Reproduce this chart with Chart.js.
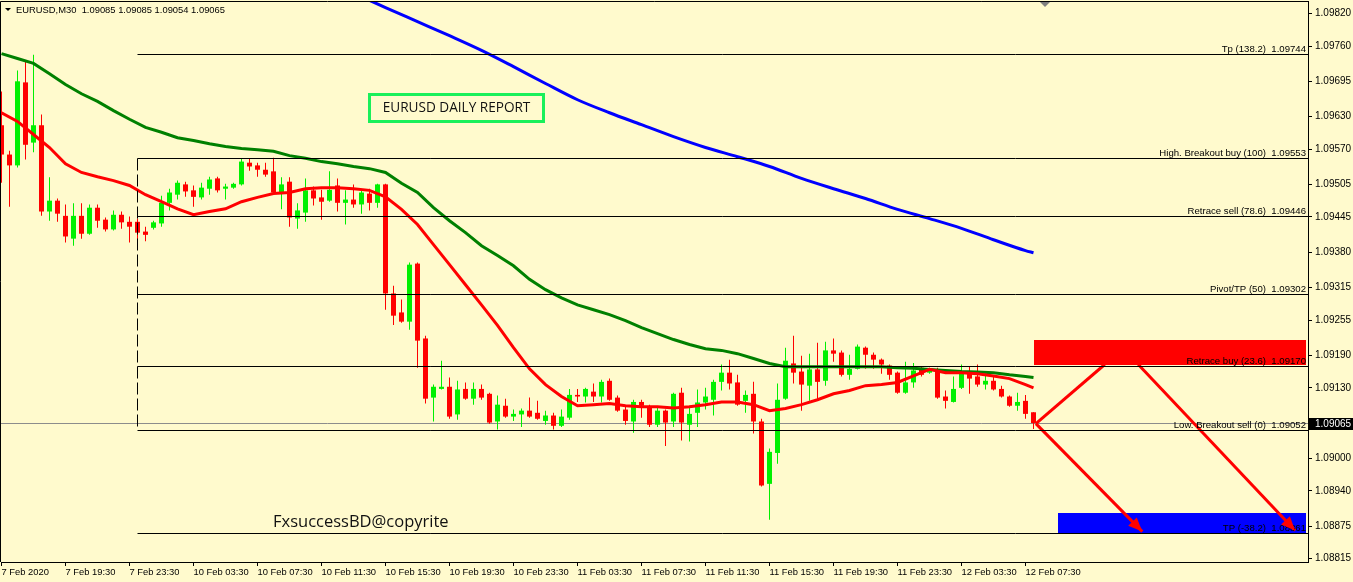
<!DOCTYPE html>
<html>
<head>
<meta charset="utf-8">
<title>EURUSD M30</title>
<script src="https://cdn.jsdelivr.net/npm/chart.js@4.4.1/dist/chart.umd.min.js"></script>
<style>
  html, body { margin: 0; padding: 0; background: #fffacd; overflow: hidden; }
  canvas { display: block; }
</style>
</head>
<body>
<canvas id="chart" width="1353" height="582"></canvas>
<script>
// EURUSD M30, bars from 7 Feb 15:30 to 12 Feb 08:00
var symbol = 'EURUSD'
var timeframe = 'M30'

var xTickLabels = ['7 Feb 2020', '7 Feb 19:30', '7 Feb 23:30', '10 Feb 03:30', '10 Feb 07:30', '10 Feb 11:30',
    '10 Feb 15:30', '10 Feb 19:30', '10 Feb 23:30', '11 Feb 03:30', '11 Feb 07:30', '11 Feb 11:30',
    '11 Feb 15:30', '11 Feb 19:30', '11 Feb 23:30', '12 Feb 03:30', '12 Feb 07:30']
var yTickValues = [1.09820, 1.09760, 1.09695, 1.09630, 1.09570, 1.09505, 1.09445, 1.09380, 1.09315,
    1.09255, 1.09190, 1.09130, 1.09065, 1.09000, 1.08940, 1.08875, 1.08815]

var opens = [
    1.09614, 1.09560, 1.09540, 1.09693, 1.09582, 1.09614, 1.09455, 1.09475, 1.09447, 1.09405,
    1.09447, 1.09414, 1.09462, 1.09440, 1.09422, 1.09449, 1.09436, 1.09436, 1.09418, 1.09425,
    1.09433, 1.09471, 1.09486, 1.09505, 1.09494, 1.09481, 1.09497, 1.09516, 1.09497, 1.09499,
    1.09505, 1.09545, 1.09540, 1.09532, 1.09529, 1.09490, 1.09510, 1.09442, 1.09453, 1.09494,
    1.09481, 1.09475, 1.09503, 1.09471, 1.09477, 1.09468, 1.09488, 1.09471, 1.09505, 1.09304,
    1.09269, 1.09252, 1.09359, 1.09221, 1.09112, 1.09128, 1.09132, 1.09081, 1.09128, 1.09110,
    1.09128, 1.09119, 1.09068, 1.09097, 1.09077, 1.09081, 1.09088, 1.09084, 1.09069, 1.09079,
    1.09060, 1.09075, 1.09117, 1.09114, 1.09123, 1.09114, 1.09143, 1.09112, 1.09090, 1.09068,
    1.09104, 1.09095, 1.09062, 1.09088, 1.09068, 1.09121, 1.09062, 1.09084, 1.09103, 1.09108,
    1.09141, 1.09158, 1.09140, 1.09106, 1.09119, 1.09068, 1.08953, 1.09010, 1.09110, 1.09175,
    1.09160, 1.09134, 1.09164, 1.09143, 1.09199, 1.09195, 1.09154, 1.09165, 1.09204, 1.09191,
    1.09182, 1.09171, 1.09158, 1.09121, 1.09140, 1.09167, 1.09158, 1.09164, 1.09114, 1.09104,
    1.09130, 1.09158, 1.09151, 1.09136, 1.09143, 1.09128, 1.09114, 1.09097, 1.09106, 1.09085]
var highs = [
    1.09676, 1.09567, 1.09715, 1.09731, 1.09744, 1.09634, 1.09518, 1.09479, 1.09468, 1.09470,
    1.09470, 1.09468, 1.09468, 1.09444, 1.09457, 1.09455, 1.09446, 1.09442, 1.09427, 1.09438,
    1.09484, 1.09497, 1.09512, 1.09510, 1.09503, 1.09508, 1.09519, 1.09519, 1.09506, 1.09508,
    1.09553, 1.09553, 1.09545, 1.09545, 1.09554, 1.09518, 1.09518, 1.09470, 1.09516, 1.09501,
    1.09495, 1.09529, 1.09516, 1.09494, 1.09505, 1.09495, 1.09497, 1.09506, 1.09506, 1.09318,
    1.09293, 1.09361, 1.09361, 1.09226, 1.09136, 1.09180, 1.09149, 1.09143, 1.09140, 1.09140,
    1.09136, 1.09121, 1.09116, 1.09110, 1.09090, 1.09092, 1.09112, 1.09106, 1.09088, 1.09084,
    1.09090, 1.09128, 1.09128, 1.09130, 1.09138, 1.09145, 1.09147, 1.09116, 1.09095, 1.09108,
    1.09108, 1.09099, 1.09095, 1.09090, 1.09121, 1.09130, 1.09097, 1.09127, 1.09130, 1.09145,
    1.09173, 1.09182, 1.09154, 1.09125, 1.09141, 1.09073, 1.09018, 1.09138, 1.09204, 1.09226,
    1.09189, 1.09193, 1.09213, 1.09215, 1.09221, 1.09199, 1.09191, 1.09210, 1.09206, 1.09195,
    1.09184, 1.09173, 1.09160, 1.09178, 1.09176, 1.09169, 1.09167, 1.09167, 1.09125, 1.09151,
    1.09173, 1.09169, 1.09173, 1.09156, 1.09151, 1.09134, 1.09116, 1.09121, 1.09117, 1.09085]
var lows = [
    1.09508, 1.09464, 1.09536, 1.09551, 1.09564, 1.09447, 1.09438, 1.09436, 1.09398, 1.09392,
    1.09405, 1.09412, 1.09425, 1.09418, 1.09420, 1.09423, 1.09398, 1.09403, 1.09400, 1.09422,
    1.09427, 1.09457, 1.09477, 1.09482, 1.09464, 1.09477, 1.09486, 1.09490, 1.09477, 1.09497,
    1.09503, 1.09530, 1.09519, 1.09519, 1.09486, 1.09459, 1.09427, 1.09423, 1.09436, 1.09466,
    1.09440, 1.09473, 1.09455, 1.09431, 1.09462, 1.09451, 1.09457, 1.09462, 1.09274, 1.09246,
    1.09250, 1.09237, 1.09167, 1.09101, 1.09068, 1.09127, 1.09073, 1.09071, 1.09108, 1.09099,
    1.09108, 1.09064, 1.09053, 1.09075, 1.09069, 1.09058, 1.09075, 1.09071, 1.09062, 1.09053,
    1.09058, 1.09071, 1.09104, 1.09103, 1.09104, 1.09103, 1.09106, 1.09086, 1.09062, 1.09047,
    1.09075, 1.09058, 1.09058, 1.09023, 1.09058, 1.09033, 1.09031, 1.09058, 1.09090, 1.09079,
    1.09125, 1.09127, 1.09097, 1.09084, 1.09046, 1.08948, 1.08887, 1.08990, 1.09108, 1.09138,
    1.09088, 1.09106, 1.09106, 1.09134, 1.09178, 1.09151, 1.09145, 1.09164, 1.09165, 1.09165,
    1.09156, 1.09145, 1.09119, 1.09119, 1.09130, 1.09151, 1.09156, 1.09110, 1.09092, 1.09103,
    1.09128, 1.09119, 1.09132, 1.09127, 1.09125, 1.09112, 1.09095, 1.09088, 1.09073, 1.09054]
var closes = [
    1.09560, 1.09540, 1.09695, 1.09578, 1.09614, 1.09455, 1.09475, 1.09451, 1.09409, 1.09447,
    1.09414, 1.09462, 1.09438, 1.09422, 1.09449, 1.09435, 1.09427, 1.09416, 1.09412, 1.09435,
    1.09471, 1.09490, 1.09508, 1.09492, 1.09482, 1.09499, 1.09514, 1.09494, 1.09501, 1.09506,
    1.09547, 1.09538, 1.09532, 1.09523, 1.09490, 1.09505, 1.09444, 1.09457, 1.09494, 1.09479,
    1.09473, 1.09495, 1.09471, 1.09477, 1.09468, 1.09490, 1.09471, 1.09505, 1.09304, 1.09263,
    1.09252, 1.09357, 1.09217, 1.09110, 1.09132, 1.09132, 1.09077, 1.09127, 1.09110, 1.09128,
    1.09112, 1.09066, 1.09099, 1.09077, 1.09082, 1.09088, 1.09077, 1.09073, 1.09079, 1.09060,
    1.09077, 1.09117, 1.09114, 1.09128, 1.09114, 1.09141, 1.09108, 1.09088, 1.09069, 1.09104,
    1.09097, 1.09062, 1.09088, 1.09066, 1.09119, 1.09066, 1.09082, 1.09103, 1.09114, 1.09141,
    1.09158, 1.09138, 1.09099, 1.09117, 1.09068, 1.08950, 1.09012, 1.09108, 1.09180, 1.09158,
    1.09136, 1.09164, 1.09141, 1.09199, 1.09193, 1.09154, 1.09165, 1.09206, 1.09191, 1.09182,
    1.09173, 1.09154, 1.09121, 1.09140, 1.09162, 1.09154, 1.09162, 1.09112, 1.09106, 1.09128,
    1.09158, 1.09147, 1.09136, 1.09143, 1.09127, 1.09114, 1.09097, 1.09104, 1.09082, 1.09065]

// moving averages at these bars
var maBars = [0, 2, 4, 6, 8, 10, 12, 14, 16, 18, 20, 22, 24, 26, 28, 30, 32, 34, 36, 38, 40, 42, 44, 46, 48,
    50, 52, 54, 56, 58, 60, 62, 64, 66, 68, 70, 72, 74, 76, 78, 80, 82, 84, 86, 88, 90, 92, 94, 96, 98,
    100, 102, 104, 106, 108, 110, 112, 114, 116, 118, 120, 122, 124, 126, 128, 129]
var fastMa = [
    1.09637, 1.09621, 1.09597, 1.09573, 1.09543, 1.09527, 1.09519, 1.09512, 1.09503, 1.09486,
    1.09473, 1.09460, 1.09449, 1.09455, 1.09460, 1.09473, 1.09481, 1.09488, 1.09490, 1.09497,
    1.09499, 1.09499, 1.09497, 1.09494, 1.09482, 1.09459, 1.09431, 1.09394, 1.09357, 1.09320,
    1.09283, 1.09245, 1.09204, 1.09165, 1.09136, 1.09114, 1.09097, 1.09099, 1.09101, 1.09097,
    1.09095, 1.09095, 1.09093, 1.09095, 1.09099, 1.09104, 1.09104, 1.09099, 1.09088, 1.09092,
    1.09099, 1.09108, 1.09119, 1.09125, 1.09134, 1.09136, 1.09140, 1.09152, 1.09164, 1.09158,
    1.09158, 1.09156, 1.09152, 1.09147, 1.09136, 1.09130]
var slowMa = [
    1.09746, 1.09737, 1.09728, 1.09709, 1.09689, 1.09672, 1.09658, 1.09641, 1.09625, 1.09610,
    1.09601, 1.09591, 1.09586, 1.09580, 1.09575, 1.09571, 1.09569, 1.09566, 1.09558, 1.09553,
    1.09547, 1.09543, 1.09538, 1.09534, 1.09527, 1.09507, 1.09490, 1.09462, 1.09438, 1.09416,
    1.09392, 1.09374, 1.09355, 1.09330, 1.09311, 1.09296, 1.09283, 1.09274, 1.09265, 1.09254,
    1.09241, 1.09230, 1.09219, 1.09210, 1.09202, 1.09199, 1.09193, 1.09184, 1.09175, 1.09169,
    1.09169, 1.09169, 1.09169, 1.09169, 1.09169, 1.09169, 1.09167, 1.09166, 1.09164, 1.09162,
    1.09160, 1.09159, 1.09158, 1.09154, 1.09151, 1.09149]
var longMaBars = [45, 48, 52, 56, 60, 64, 68, 72, 76, 80, 84, 88, 92, 96, 100, 104, 108, 112, 116, 120, 124, 128, 129]
var longMa = [
    1.09851, 1.09831, 1.09805, 1.09779, 1.09752, 1.09722, 1.09691, 1.09661, 1.09637, 1.09615,
    1.09593, 1.09573, 1.09556, 1.09538, 1.09516, 1.09497, 1.09479, 1.09459, 1.09442, 1.09424,
    1.09403, 1.09383, 1.09379]

// fibo levels drawn from the Monday open bar
var levelNames = ['Tp (138.2)', 'High. Breakout buy (100)', 'Retrace sell (78.6)', 'Pivot/TP (50)',
    'Retrace buy (23.6)', 'Low. Breakout sell (0)', 'TP (-38.2)']
var levelValues = [1.09744, 1.09553, 1.09446, 1.09302, 1.09170, 1.09052, 1.08861]
var fibStartBar = 17

var sellZone = [1.09219, 1.09173]
var sellZoneBars = [129, 163]
var tpZone = [1.08900, 1.08863]
var tpZoneBars = [132, 163]

var arrowLines = [
    [[129.3, 1.09064], [137.9, 1.09173]],
    [[142.1, 1.09173], [161.7, 1.08867]],
    [[129.3, 1.09064], [142.6, 1.08865]]
]
var arrowHeads = [false, true, true]

var reportTitle = 'EURUSD DAILY REPORT'
var copyText = 'FxsuccessBD@copyrite'

var bgColor = '#fffacd'
var bullColor = '#00f000'
var bearColor = '#ff0000'
var fontFamily = '"Liberation Sans", Arial, sans-serif'

var xMin = -0.0625, xMax = 163.3125
var yMin = 1.08809, yMax = 1.09843

var wickData = []
var bodyData = []
var candleColors = []
for (var i = 0; i < opens.length; i++) {
    wickData.push({ x: i, y: [lows[i], highs[i]] })
    bodyData.push({ x: i, y: [opens[i], closes[i]] })
    candleColors.push(closes[i] >= opens[i] ? bullColor : bearColor)
}

function toPoints(bars, values) {
    var pts = []
    for (var k = 0; k < bars.length; k++) {
        pts.push({ x: bars[k], y: values[k] })
    }
    return pts
}

var datasets = [
    { type: 'bar', data: wickData, backgroundColor: candleColors, barThickness: 1, grouped: false,
      borderWidth: 0, inflateAmount: 0, order: 4 },
    { type: 'bar', data: bodyData, backgroundColor: candleColors, barThickness: 5, grouped: false,
      borderWidth: 0, inflateAmount: 0, minBarLength: 1, order: 3 },
    { type: 'line', data: toPoints(maBars, fastMa), borderColor: '#ff0000', borderWidth: 3, pointRadius: 0, order: 2 },
    { type: 'line', data: toPoints(maBars, slowMa), borderColor: '#008000', borderWidth: 3, pointRadius: 0, order: 2 },
    { type: 'line', data: toPoints(longMaBars, longMa), borderColor: '#0000ff', borderWidth: 3, pointRadius: 0,
      cubicInterpolationMode: 'monotone', order: 2 }
]
arrowLines.forEach(function (line) {
    datasets.push({ type: 'line', data: line.map(function (p) { return { x: p[0], y: p[1] } }),
        borderColor: '#ff0000', borderWidth: 3, pointRadius: 0, order: 1 })
})

function crispY(scale, v) {
    return Math.floor(scale.getPixelForValue(v)) + 0.5
}

var mt4Plugin = {
    id: 'mt4',
    beforeDraw: function (chart) {
        var ctx = chart.ctx
        ctx.save()
        ctx.fillStyle = bgColor
        ctx.fillRect(0, 0, chart.width, chart.height)
        ctx.restore()
    },
    beforeDatasetsDraw: function (chart) {
        var ctx = chart.ctx, a = chart.chartArea, xs = chart.scales.x, ys = chart.scales.y
        ctx.save()
        ctx.beginPath()
        ctx.rect(a.left, a.top, a.right - a.left, a.bottom - a.top)
        ctx.clip()

        function zone(vals, bars, color) {
            var x1 = Math.round(xs.getPixelForValue(bars[0]))
            var x2 = Math.round(xs.getPixelForValue(bars[1]))
            var y1 = Math.round(ys.getPixelForValue(vals[0]))
            var y2 = Math.round(ys.getPixelForValue(vals[1]))
            ctx.fillStyle = color
            ctx.fillRect(x1, y1, x2 - x1, y2 - y1)
        }
        zone(sellZone, sellZoneBars, '#ff0000')
        zone(tpZone, tpZoneBars, '#0000ff')

        // bid line
        var py = crispY(ys, closes[closes.length - 1])
        ctx.strokeStyle = '#8c8c8c'
        ctx.lineWidth = 1
        ctx.beginPath()
        ctx.moveTo(a.left, py)
        ctx.lineTo(a.right, py)
        ctx.stroke()
        ctx.restore()
    },
    afterDatasetsDraw: function (chart) {
        var ctx = chart.ctx, a = chart.chartArea, xs = chart.scales.x, ys = chart.scales.y
        ctx.save()
        ctx.beginPath()
        ctx.rect(a.left, a.top, a.right - a.left, a.bottom - a.top)
        ctx.clip()

        var fx = Math.floor(xs.getPixelForValue(fibStartBar)) + 0.5
        ctx.strokeStyle = '#000'
        ctx.lineWidth = 1
        levelValues.forEach(function (v) {
            var y = crispY(ys, v)
            ctx.beginPath()
            ctx.moveTo(fx, y)
            ctx.lineTo(a.right, y)
            ctx.stroke()
        })
        ctx.setLineDash([12, 4])
        ctx.beginPath()
        ctx.moveTo(fx, crispY(ys, levelValues[1]))
        ctx.lineTo(fx, crispY(ys, levelValues[5]))
        ctx.stroke()
        ctx.setLineDash([])

        // level captions
        ctx.fillStyle = '#000'
        ctx.font = '9.6px ' + fontFamily
        ctx.textAlign = 'right'
        ctx.textBaseline = 'alphabetic'
        levelValues.forEach(function (v, k) {
            var y = Math.floor(ys.getPixelForValue(v))
            ctx.fillText(levelNames[k] + '  ' + v.toFixed(5), a.right - 2, y - 2)
        })

        // arrow heads
        ctx.fillStyle = '#ff0000'
        arrowLines.forEach(function (line, k) {
            if (!arrowHeads[k]) return
            var x1 = xs.getPixelForValue(line[0][0]), y1 = ys.getPixelForValue(line[0][1])
            var x2 = xs.getPixelForValue(line[1][0]), y2 = ys.getPixelForValue(line[1][1])
            var ang = Math.atan2(y2 - y1, x2 - x1), len = 14, w = 6
            ctx.beginPath()
            ctx.moveTo(x2, y2)
            ctx.lineTo(x2 - len * Math.cos(ang) + w * Math.sin(ang), y2 - len * Math.sin(ang) - w * Math.cos(ang))
            ctx.lineTo(x2 - len * Math.cos(ang) - w * Math.sin(ang), y2 - len * Math.sin(ang) + w * Math.cos(ang))
            ctx.closePath()
            ctx.fill()
        })

        // report label
        ctx.strokeStyle = '#19f05a'
        ctx.lineWidth = 3
        ctx.strokeRect(369.5, 94.5, 174, 27)
        ctx.fillStyle = '#111'
        ctx.font = '13.6px "Open Sans", ' + fontFamily
        ctx.textAlign = 'center'
        ctx.textBaseline = 'middle'
        ctx.fillText(reportTitle, 456.5, 108.5)

        ctx.font = '16.5px "Open Sans", ' + fontFamily
        ctx.textAlign = 'left'
        ctx.fillText(copyText, 273, 522)
        ctx.restore()
    },
    afterDraw: function (chart) {
        var ctx = chart.ctx, a = chart.chartArea, ys = chart.scales.y
        var n = closes.length - 1
        ctx.save()
        // frame
        ctx.strokeStyle = '#000'
        ctx.lineWidth = 1
        ctx.beginPath()
        ctx.moveTo(0.5, a.bottom)
        ctx.lineTo(0.5, 1.5)
        ctx.lineTo(a.right, 1.5)
        ctx.stroke()

        // header
        ctx.fillStyle = '#000'
        ctx.beginPath()
        ctx.moveTo(5, 8)
        ctx.lineTo(11, 8)
        ctx.lineTo(8, 11)
        ctx.closePath()
        ctx.fill()
        ctx.font = '9.4px ' + fontFamily
        ctx.textAlign = 'left'
        ctx.textBaseline = 'alphabetic'
        ctx.fillText(symbol + ',' + timeframe + '  ' + [opens[n], highs[n], lows[n], closes[n]].map(function (v) {
            return v.toFixed(5)
        }).join(' '), 16, 13)

        // chart shift marker
        ctx.fillStyle = '#808080'
        ctx.beginPath()
        ctx.moveTo(1040, 2)
        ctx.lineTo(1050, 2)
        ctx.lineTo(1045, 7)
        ctx.closePath()
        ctx.fill()

        // bid price label on the axis
        var py = Math.floor(ys.getPixelForValue(closes[n]))
        ctx.fillStyle = '#000'
        ctx.fillRect(a.right + 1, py - 5, chart.width - a.right - 1, 12)
        ctx.fillStyle = '#fff'
        ctx.font = '10px ' + fontFamily
        ctx.textBaseline = 'middle'
        ctx.fillText(closes[n].toFixed(5), a.right + 7, py + 1)
        ctx.restore()
    }
}

var axisFont = { family: fontFamily, size: 10 }

var chart = new Chart(document.getElementById('chart').getContext('2d'), {
    type: 'bar',
    data: { datasets: datasets },
    options: {
        responsive: false,
        animation: false,
        events: [],
        devicePixelRatio: 1,
        layout: { padding: { left: 1, top: 1, right: 0, bottom: 0 } },
        plugins: { legend: { display: false }, tooltip: { enabled: false } },
        scales: {
            x: {
                type: 'linear',
                min: xMin,
                max: xMax,
                offset: false,
                afterFit: function (s) { s.height = 20; s.paddingLeft = 0; s.paddingRight = 0 },
                afterBuildTicks: function (s) {
                    s.ticks = xTickLabels.map(function (l, k) { return { value: k * 8 } })
                },
                grid: { offset: false, drawOnChartArea: false, drawTicks: true, tickLength: 4, color: '#000', tickColor: '#000' },
                border: { display: true, color: '#000', width: 1 },
                ticks: {
                    autoSkip: false, maxRotation: 0, minRotation: 0, align: 'start', padding: 1, color: '#000',
                    font: { family: fontFamily, size: 9.4 },
                    callback: function (v, idx) { return xTickLabels[idx] }
                }
            },
            y: {
                position: 'right',
                min: yMin,
                max: yMax,
                beginAtZero: false,
                afterFit: function (s) { s.width = 45; s.paddingTop = 0; s.paddingBottom = 0 },
                afterBuildTicks: function (s) {
                    s.ticks = yTickValues.map(function (v) { return { value: v } })
                },
                grid: { drawOnChartArea: false, drawTicks: true, tickLength: 4, color: '#000', tickColor: '#000' },
                border: { display: true, color: '#000', width: 1 },
                ticks: {
                    autoSkip: false, padding: 3, color: '#000', font: axisFont,
                    callback: function (v) { return Number(v).toFixed(5) }
                }
            }
        }
    },
    plugins: [mt4Plugin]
})
</script>
</body>
</html>
